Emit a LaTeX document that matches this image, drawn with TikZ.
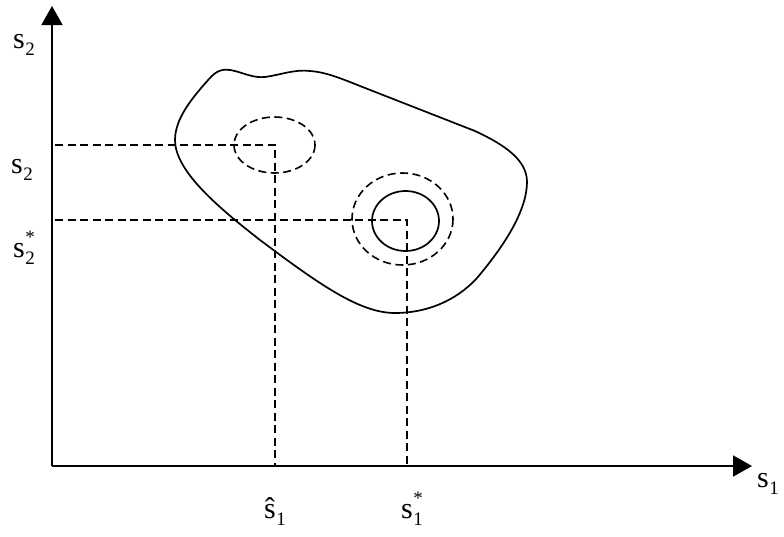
\documentclass[tikz,border=0pt]{standalone}
\usepackage{fontspec}
\setmainfont{Liberation Serif}
\usetikzlibrary{arrows.meta}
\newcommand{\basefont}{\fontsize{30}{30}\selectfont}
\newcommand{\subfont}{\fontsize{19}{19}\selectfont}
\newcommand{\lbsub}[2]{#1\kern0.5pt\raisebox{-7pt}{\subfont #2}}
\newcommand{\lbsubsup}[3]{#1\kern0.5pt\rlap{\raisebox{-7pt}{\subfont #2}}\raisebox{14pt}{\subfont #3}}
\begin{document}
\begin{tikzpicture}[x=1pt,y=-1pt,
  axis/.style={line width=1.8pt,-{Triangle[length=19pt,width=21pt]}},
  guide/.style={line width=1.6pt,dash pattern=on 8pt off 4.5pt},
  curve/.style={line width=1.7pt},
  lab/.style={inner sep=0pt,anchor=base west,font=\basefont}]
\useasboundingbox (0,0) rectangle (784,536);
\coordinate (O) at (52,466);
\coordinate (Ytip) at (52,6);
\coordinate (Xtip) at (752,466);
\draw[axis] (O) -- (Ytip);
\draw[axis] (O) -- (Xtip);
% guide points
\coordinate (H) at (275,145);
\coordinate (S) at (407,220);
\coordinate (Hy) at (55,145);
\coordinate (Sy) at (55,220);
\coordinate (Hx) at (275,466);
\coordinate (Sx) at (407,466);
\draw[guide] (Hy) -- (H) -- (Hx);
\draw[guide] (Sy) -- (S) -- (Sx);
% ellipses
\draw[guide] (274.5,145) ellipse [x radius=40.5, y radius=28];
\draw[guide] (402.5,219) ellipse [x radius=50.5, y radius=46];
\draw[curve] (405.5,221) ellipse [x radius=33.5, y radius=30];
% blob
\draw[curve] (175,140)
  .. controls (175,118) and (193,97) .. (209,79)
  .. controls (217,70) and (223,68) .. (235,71)
  .. controls (246,74) and (254,78) .. (265,77)
  .. controls (280,75) and (295,69) .. (310,71)
  .. controls (325,72) and (340,78) .. (360,86)
  -- (475,131)
  .. controls (505,145) and (527,160) .. (527,182)
  .. controls (527,210) and (505,245) .. (477,278)
  .. controls (455,302) and (425,313) .. (395,313)
  .. controls (360,313) and (320,285) .. (260,240)
  .. controls (215,205) and (175,170) .. cycle;
% labels
\node[lab] (ly1) at (13,48) {\lbsub{s}{2}};
\node[lab] (ly2) at (11,173) {\lbsub{s}{2}};
\node[lab] (ly3) at (13,257) {\lbsubsup{s}{2}{*}};
\node[lab] (lx1) at (264,518) {\lbsub{ŝ}{1}};
\node[lab] (lx2) at (401,518) {\lbsubsup{s}{1}{*}};
\node[lab] (lx3) at (757,487) {\lbsub{s}{1}};
\end{tikzpicture}
\end{document}
